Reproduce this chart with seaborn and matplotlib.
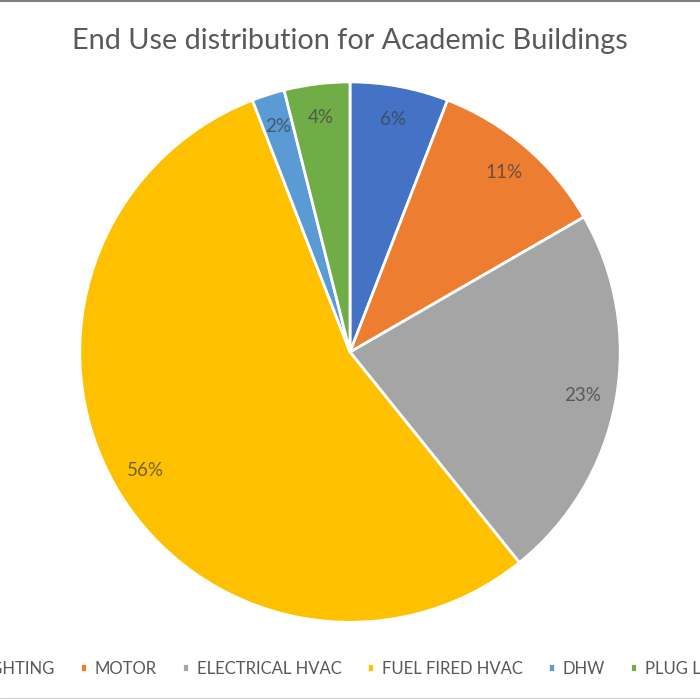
import matplotlib
matplotlib.use("Agg")
import matplotlib.pyplot as plt
import seaborn as sns
from matplotlib.lines import Line2D

categories = ["LIGHTING", "MOTOR", "ELECTRICAL HVAC", "FUEL FIRED HVAC", "DHW", "PLUG LOAD"]
shares = [6, 11, 23, 56, 2, 4]
colors = ["#4472C4", "#ED7D31", "#A5A5A5", "#FFC000", "#5B9BD5", "#70AD47"]
title = "End Use distribution for Academic Buildings"

sns.set_theme(style="white")
plt.rcParams["font.family"] = ["Lato", "DejaVu Sans"]

total = sum(shares)

fig = plt.figure(figsize=(7, 7), dpi=100)
r = 0.386
ax = fig.add_axes([0.5 - r, 0.497 - r, 2 * r, 2 * r])
wedges, texts, autotexts = ax.pie(
    shares, colors=colors, startangle=90, counterclock=False,
    autopct=lambda p: f"{p * total / 100:.0f}%", pctdistance=0.875,
    wedgeprops=dict(edgecolor="white", linewidth=2),
    textprops=dict(color="#404040", alpha=0.75, fontsize=13.5),
)
ax.set_xlim(-1, 1)
ax.set_ylim(-1, 1)
ax.set_aspect("equal")
ax.axis("off")

fig.text(0.5, 0.942, title, ha="center", va="center", fontsize=20.8, color="#595959")

fig.legend(wedges, categories, loc="center", bbox_to_anchor=(0.5, 0.045), ncol=6,
           frameon=False, prop=dict(family=["Lato", "DejaVu Sans"], size=12),
           labelcolor="#595959",
           handlelength=0.42, handleheight=0.42, handletextpad=0.48, columnspacing=1.5)

fig.add_artist(Line2D([0, 1], [0.998, 0.998], color="#808080", lw=1.5))
fig.add_artist(Line2D([0, 1], [0.003, 0.003], color="#d9d9d9", lw=1))

fig.savefig("out.png", dpi=100)
